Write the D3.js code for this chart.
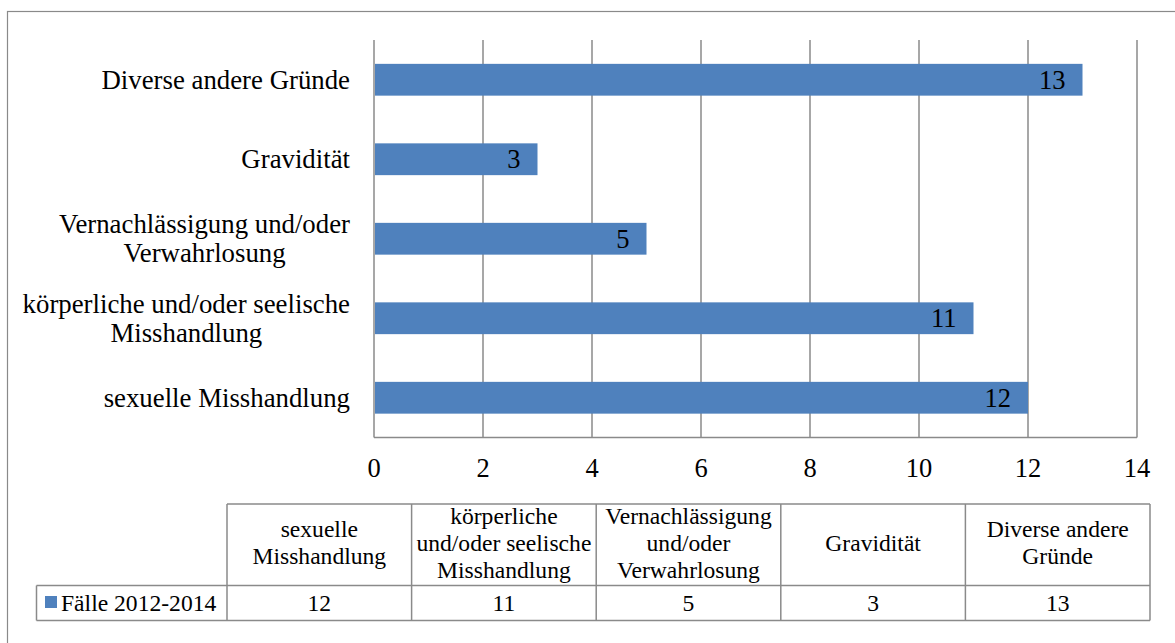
<!doctype html>
<html>
<head>
<meta charset="UTF-8">
<script src="https://d3js.org/d3.v7.min.js"></script>
<style>
  body { margin: 0; background: #fff; }
  svg { display: block; }
  svg text { font-family: 'Liberation Serif', 'Times New Roman', Times, 'DejaVu Serif', serif; }
</style>
</head>
<body>
<svg width="1175" height="643"></svg>
<script>
// data
var categories = ["sexuelle Misshandlung", "körperliche und/oder seelische Misshandlung",
                  "Vernachlässigung und/oder Verwahrlosung", "Gravidität", "Diverse andere Gründe"];
var values = [12, 11, 5, 3, 13];
var seriesName = "Fälle 2012-2014";
var axisLabelLines = [["sexuelle Misshandlung"], ["körperliche und/oder seelische", "Misshandlung"],
                      ["Vernachlässigung und/oder", "Verwahrlosung"], ["Gravidität"], ["Diverse andere Gründe"]];
var tableLabelLines = [["sexuelle", "Misshandlung"], ["körperliche", "und/oder seelische", "Misshandlung"],
                       ["Vernachlässigung", "und/oder", "Verwahrlosung"], ["Gravidität"], ["Diverse andere", "Gründe"]];
var xTicks = [0, 2, 4, 6, 8, 10, 12, 14];

var svg = d3.select("svg");
var gridColor = "#8a8a8a";
var barColor = "#4f81bd";

// outer frame
svg.append("rect")
  .attr("x", 7.5).attr("y", 11.5).attr("width", 1200).attr("height", 700)
  .attr("fill", "none").attr("stroke", gridColor).attr("stroke-width", 1.2);

var plot = {left: 374, right: 1137, top: 40, bottom: 437.5};

var x = d3.scaleLinear().domain([0, 14]).range([plot.left, plot.right]);
var y = d3.scaleBand().domain(categories).range([plot.bottom, plot.top])
  .paddingInner(0.6).paddingOuter(0.3);

// vertical gridlines
svg.append("g").selectAll("line")
  .data(xTicks)
  .join("line")
  .attr("x1", d => x(d)).attr("x2", d => x(d))
  .attr("y1", plot.top).attr("y2", plot.bottom)
  .attr("stroke", gridColor).attr("stroke-width", 1.5);

// bottom axis line
svg.append("line")
  .attr("x1", plot.left).attr("x2", plot.right)
  .attr("y1", plot.bottom).attr("y2", plot.bottom)
  .attr("stroke", gridColor).attr("stroke-width", 1.5);

// tick labels
svg.append("g").selectAll("text")
  .data(xTicks)
  .join("text")
  .attr("x", d => x(d)).attr("y", 477)
  .attr("text-anchor", "middle")
  .attr("font-size", "26.5px")
  .text(d => d);

// bars
svg.append("g").selectAll("rect")
  .data(categories)
  .join("rect")
  .attr("x", x(0) + 1)
  .attr("y", d => y(d))
  .attr("width", (d, i) => x(values[i]) - x(0) - 1)
  .attr("height", y.bandwidth())
  .attr("fill", barColor);

// value labels inside bar end
svg.append("g").selectAll("text")
  .data(categories)
  .join("text")
  .attr("x", (d, i) => x(values[i]) - 17)
  .attr("y", d => y(d) + y.bandwidth() / 2 + 9)
  .attr("text-anchor", "end")
  .attr("font-size", "26.5px")
  .text((d, i) => values[i]);

// category labels (multi-line, centered lines, block right aligned)
var labelRight = 350;
categories.forEach(function(c, i) {
  var lines = axisLabelLines[i];
  var cy = y(c) + y.bandwidth() / 2;
  var g = svg.append("g");
  var t = g.selectAll("text")
    .data(lines)
    .join("text")
    .attr("font-size", "26.8px")
    .attr("text-anchor", "middle")
    .attr("y", (d, k) => cy + 9 + (k - (lines.length - 1) / 2) * 29)
    .text(d => d);
  var maxW = d3.max(t.nodes(), n => n.getComputedTextLength());
  t.attr("x", labelRight - maxW / 2);
});

// data table
var table = {left: 227, right: 1150, top: 504, mid: 585.5, bottom: 620.5, legendLeft: 36.5};
var col = d3.scaleBand().domain(categories).range([table.left, table.right]);

var tg = svg.append("g");
var lineAttr = function(sel) { return sel.attr("stroke", gridColor).attr("stroke-width", 1.5); };

// horizontal lines
lineAttr(tg.append("line").attr("x1", table.left).attr("x2", table.right).attr("y1", table.top).attr("y2", table.top));
lineAttr(tg.append("line").attr("x1", table.legendLeft).attr("x2", table.right).attr("y1", table.mid).attr("y2", table.mid));
lineAttr(tg.append("line").attr("x1", table.legendLeft).attr("x2", table.right).attr("y1", table.bottom).attr("y2", table.bottom));
// vertical lines
lineAttr(tg.append("line").attr("x1", table.legendLeft).attr("x2", table.legendLeft).attr("y1", table.mid).attr("y2", table.bottom));
tg.selectAll("line.col")
  .data(categories.concat(["end"]))
  .join("line")
  .attr("class", "col")
  .attr("x1", d => d === "end" ? table.right : col(d))
  .attr("x2", d => d === "end" ? table.right : col(d))
  .attr("y1", table.top).attr("y2", table.bottom)
  .attr("stroke", gridColor).attr("stroke-width", 1.5);

// header texts
var headCy = (table.top + table.mid) / 2;
categories.forEach(function(c, i) {
  var lines = tableLabelLines[i];
  tg.append("g").selectAll("text")
    .data(lines)
    .join("text")
    .attr("x", col(c) + col.bandwidth() / 2)
    .attr("y", (d, k) => headCy + 6 + (k - (lines.length - 1) / 2) * 27)
    .attr("text-anchor", "middle")
    .attr("font-size", "23.6px")
    .text(d => d);
});

// value row
var rowCy = (table.mid + table.bottom) / 2;
tg.append("g").selectAll("text")
  .data(categories)
  .join("text")
  .attr("x", d => col(d) + col.bandwidth() / 2)
  .attr("y", rowCy + 8)
  .attr("text-anchor", "middle")
  .attr("font-size", "23.6px")
  .text((d, i) => values[i]);

// legend key
tg.append("rect")
  .attr("x", 45).attr("y", 596).attr("width", 12).attr("height", 12)
  .attr("fill", barColor);
tg.append("text")
  .attr("x", 61).attr("y", rowCy + 8)
  .attr("font-size", "23.6px")
  .text(seriesName);
</script>
</body>
</html>
